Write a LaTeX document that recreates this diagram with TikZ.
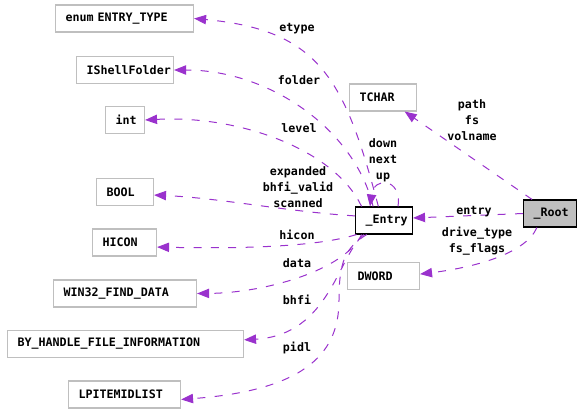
\documentclass[tikz,border=0pt]{standalone}
\usepackage{fontspec}
\usepackage{tikz}
\usetikzlibrary{arrows.meta}
\newfontfamily\dxmono{DejaVu Sans Mono}
\definecolor{edgepurple}{HTML}{9A32CD}
\definecolor{boxgray}{HTML}{BFBFBF}

\begin{document}
\begin{tikzpicture}[x=0.75pt, y=-0.75pt,
    every node/.style={font=\dxmono\bfseries\fontsize{8.75}{12}\selectfont},
    cls/.style={draw=boxgray, line width=0.8pt, anchor=west, minimum height=20.25pt,
      inner xsep=7.5pt, inner ysep=0pt, align=left},
    lbl/.style={align=center, inner sep=0pt},
    use/.style={draw=edgepurple, line width=0.75pt, dash pattern=on 6pt off 7pt,
      -{Triangle[length=9pt, width=7pt]}, shorten >=0pt}]
        \useasboundingbox (0,0) rectangle (581,413);

        % member types
        \node[cls, text width=88.5pt] (etype) at (55,18.5) {enum ENTRY\_TYPE};
        \node[cls, text width=57.75pt] (ishell) at (76,70) {IShellFolder};
        \node[cls, text width=14.25pt] (int) at (105,120) {int};
        \node[cls, text width=27.75pt] (bool) at (96,192) {BOOL};
        \node[cls, text width=33pt] (hicon) at (92,242.5) {HICON};
        \node[cls, text width=92.25pt] (win32) at (53,293.5) {WIN32\_FIND\_DATA};
        \node[cls, text width=162pt] (byh) at (7,344) {BY\_HANDLE\_FILE\_INFORMATION};
        \node[cls, text width=69pt] (lpi) at (68,394.5) {LPITEMIDLIST};
        \node[cls, text width=35.25pt] (tchar) at (349,97.5) {TCHAR};
        \node[cls, text width=39pt] (dword) at (347,276) {DWORD};

        % the two structs
        \node[cls, draw=black, fill=white, text width=27.75pt] (entry) at (355,220.5) {\_Entry};
        \node[cls, draw=black, fill=boxgray, text width=24.75pt] (root) at (523,213.5) {\_Root};

        % _Entry members
        \draw[use] (entry.112) .. controls (345,80) and (320,30) .. (etype.east);
        \draw[use] (entry.128) .. controls (355,130) and (270,70) .. (ishell.east);
        \draw[use] (entry.148) .. controls (335,150) and (240,115) .. (int.east);
        \draw[use] (entry.171) .. controls (290,212) and (220,198) .. (bool.354);
        \draw[use] (entry.207) .. controls (320,246) and (250,249) .. (hicon.352);
        \draw[use] (entry.212) .. controls (345,270) and (265,293) .. (win32.east);
        \draw[use] (entry.215) .. controls (338,255) and (330,335) .. (byh.2);
        \draw[use] (entry.219) .. controls (345,248) and (339,262) .. (339,300)
            .. controls (339,350) and (310,390) .. (lpi.355);
        \draw[use] (entry.45) .. controls (402,178) and (374,176) .. (entry.135);

        % _Root members
        \draw[use] (root.west) -- (entry.5);
        \draw[use] (root.142) -- (tchar.327);
        \draw[use] (root.227) .. controls (525,255) and (470,268) .. (dword.3);

        % edge labels
        \node[lbl] (letype) at (297,29) {etype};
        \node[lbl] (lfolder) at (299,80) {folder};
        \node[lbl] (llevel) at (299,128.5) {level};
        \node[lbl] (lbool) at (298,187) {expanded\\bhfi\_valid\\scanned};
        \node[lbl] (lhicon) at (297,235) {hicon};
        \node[lbl] (ldata) at (297,263.5) {data};
        \node[lbl] (lbhfi) at (297,300) {bhfi};
        \node[lbl] (lpidl) at (297,348) {pidl};
        \node[lbl] (lself) at (383,160) {down\\next\\up};
        \node[lbl] (ltchar) at (472,120.5) {path\\fs\\volname};
        \node[lbl] (lentry) at (474,211.5) {entry};
        \node[lbl] (ldword) at (477,241) {drive\_type\\fs\_flags};
\end{tikzpicture}
\end{document}
